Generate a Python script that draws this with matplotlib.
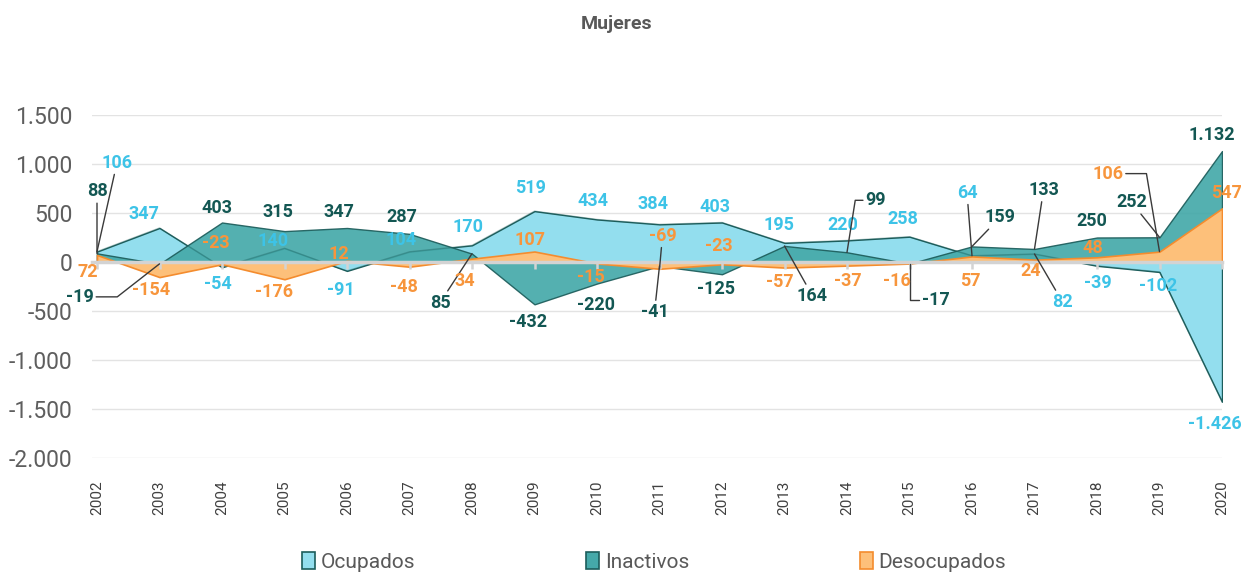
import matplotlib
matplotlib.use("Agg")
import matplotlib.pyplot as plt
import numpy as np
from matplotlib.patches import Patch

plt.rcParams['font.family'] = ['Roboto', 'DejaVu Sans']

# ---------------- data ----------------
years = [str(y) for y in range(2002, 2021)]
ocupados = [106, 347, -54, 140, -91, 104, 170, 519, 434, 384, 403, 195, 220, 258, 64, 82, -39, -102, -1426]
inactivos = [88, -19, 403, 315, 347, 287, 85, -432, -220, -41, -125, 164, 99, -17, 159, 133, 250, 252, 1132]
desocupados = [72, -154, -23, -176, 12, -48, 34, 107, -15, -69, -23, -57, -37, -16, 57, 24, 48, 106, 547]
yticks = [-2000, -1500, -1000, -500, 0, 500, 1000, 1500]
title = "Mujeres"
series_names = ["Ocupados", "Inactivos", "Desocupados"]

# ---------------- label placement (pixels, dx right, dy up) ----------------
# entries: (dx, dy) or (dx, dy, leader) where leader is 'line' or (relpos, angleA, angleB)
off_ocu = [(20, 89, 'line'), (-16, 14), (-4, -17), (-11, 7), (-6, -19), (-8, 12), (-4, 18), (-4, 23),
           (-4, 18), (-6, 20), (-7, 16), (-6, 18), (-4, 15), (-7, 18), (-5, 63, 'line'),
           (28, -48, 'line'), (1, -17), (-1, -14), (-7, -22)]
off_ina = [(0, 62, 'line'), (-80, -33, ((1, 0.5), 0, 38)), (-5, 15), (-7, 19), (-8, 16), (-8, 17),
           (-32, -49, 'line'), (-6, -18), (-1, -21), (-5, -46, 'line'), (-6, -15), (28, -50, 'line'),
           (29, 52, ((0, 0.5), 0, 81)), (26, -36, ((0, 0.5), 0, 90)), (28, 29, 'line'),
           (9, 59, 'line'), (-5, 17), (-28, 35, 'line'), (-10, 16)]
off_des = [(-9, -17), (-8, -13), (-6, 21), (-10, -13), (-8, 7), (-6, -20), (-7, -22), (-5, 12),
           (-6, -14), (3, 33, 'line'), (-3, 18), (-5, -14), (1, -15), (-13, -17), (-2, -25),
           (-4, -11), (-4, 9), (-52, 78, ((1, 0.5), 0, 99.5)), (4, 15)]

# ---------------- styles ----------------
c_ocu_fill, c_ocu_lab = '#93DEEE', '#3DC3E7'
c_ina_fill, c_ina_lab = '#45A9A9', '#135753'
c_des_fill, c_des_lab = '#FDC07A', '#F7953C'
c_edge = '#1D5D5B'
c_des_edge = '#F48C2E'
c_grey = '#595959'

fig = plt.figure(figsize=(12.41, 5.75), dpi=100)
ax = fig.add_axes([92 / 1241, 1 - 458 / 575, (1222 - 92) / 1241, (458 - 115) / 575])

x = np.arange(len(years))

ax.fill_between(x, 0, ocupados, facecolor=c_ocu_fill, edgecolor=c_edge, linewidth=1.0, zorder=1.0)
ax.fill_between(x, 0, inactivos, facecolor=c_ina_fill, edgecolor=c_edge, linewidth=1.0, alpha=0.92, zorder=1.1)
ax.plot(x, ocupados, color=c_edge, linewidth=1.0, alpha=0.35, zorder=1.15)
ax.fill_between(x, 0, desocupados, facecolor=c_des_fill, edgecolor=c_des_edge, linewidth=1.2, zorder=1.2)

ax.set_xlim(-0.08, len(years) - 1)
ax.set_ylim(-2000, 1500)
ax.set_yticks(yticks)
ax.set_yticklabels([f"{v:,}".replace(",", ".") for v in yticks])
ax.tick_params(axis='y', length=0, pad=14, labelsize=16.5, labelcolor='#5E5E5E')
ax.grid(axis='y', color='#E3E3E3', linewidth=1.0)
ax.set_axisbelow(True)

for s in ['top', 'right', 'left']:
    ax.spines[s].set_visible(False)
ax.spines['bottom'].set_position(('data', 0))
ax.spines['bottom'].set_color('#D3D3D3')
ax.spines['bottom'].set_linewidth(2.5)
ax.spines['bottom'].set_zorder(4)
ax.set_xticks(x)
ax.tick_params(axis='x', direction='out', length=5, width=1.8, color='#D3D3D3', labelbottom=False)
ax.xaxis.set_zorder(4)

sec = ax.secondary_xaxis('bottom')
sec.set_xticks(x)
sec.set_xticklabels(years, rotation=90)
sec.tick_params(axis='x', length=0, pad=16, labelsize=11, labelcolor='#404040')
sec.spines['bottom'].set_visible(False)


def fmt(v):
    return f"{v:,}".replace(",", ".")


def put_labels(vals, offs, color):
    for i, (v, o) in enumerate(zip(vals, offs)):
        dx, dy = o[0], o[1]
        leader = o[2] if len(o) > 2 else None
        kw = dict(xy=(i, v), xytext=(dx, dy), textcoords='offset pixels',
                  ha='center', va='center', fontsize=13, fontweight='bold',
                  color=color, zorder=6, annotation_clip=False)
        if leader == 'line':
            kw['arrowprops'] = dict(arrowstyle='-', color='#3A3A3A', lw=1.0,
                                    shrinkA=0, shrinkB=0)
        elif leader is not None:
            relpos, aA, aB = leader
            kw['arrowprops'] = dict(arrowstyle='-', color='#3A3A3A', lw=1.0,
                                    shrinkA=0, shrinkB=0, relpos=relpos,
                                    connectionstyle=f"angle,angleA={aA},angleB={aB},rad=0")
        ax.annotate(fmt(v), **kw)


put_labels(ocupados, off_ocu, c_ocu_lab)
put_labels(inactivos, off_ina, c_ina_lab)
put_labels(desocupados, off_des, c_des_lab)

fig.text(0.497, 1 - 24 / 575, title, ha='center', va='center', fontsize=14,
         fontweight='bold', color=c_grey)

handles = [Patch(facecolor=c_ocu_fill, edgecolor=c_edge, linewidth=1.2),
           Patch(facecolor=c_ina_fill, edgecolor=c_edge, linewidth=1.2),
           Patch(facecolor=c_des_fill, edgecolor=c_des_edge, linewidth=1.2)]
leg = fig.legend(handles, series_names, loc='center', bbox_to_anchor=(0.527, 1 - 562 / 575),
                 ncol=3, frameon=False, fontsize=15, handlelength=0.65, handleheight=0.85,
                 handletextpad=0.25, columnspacing=8.2)
for t in leg.get_texts():
    t.set_color(c_grey)

fig.savefig("out.png", dpi=100)
